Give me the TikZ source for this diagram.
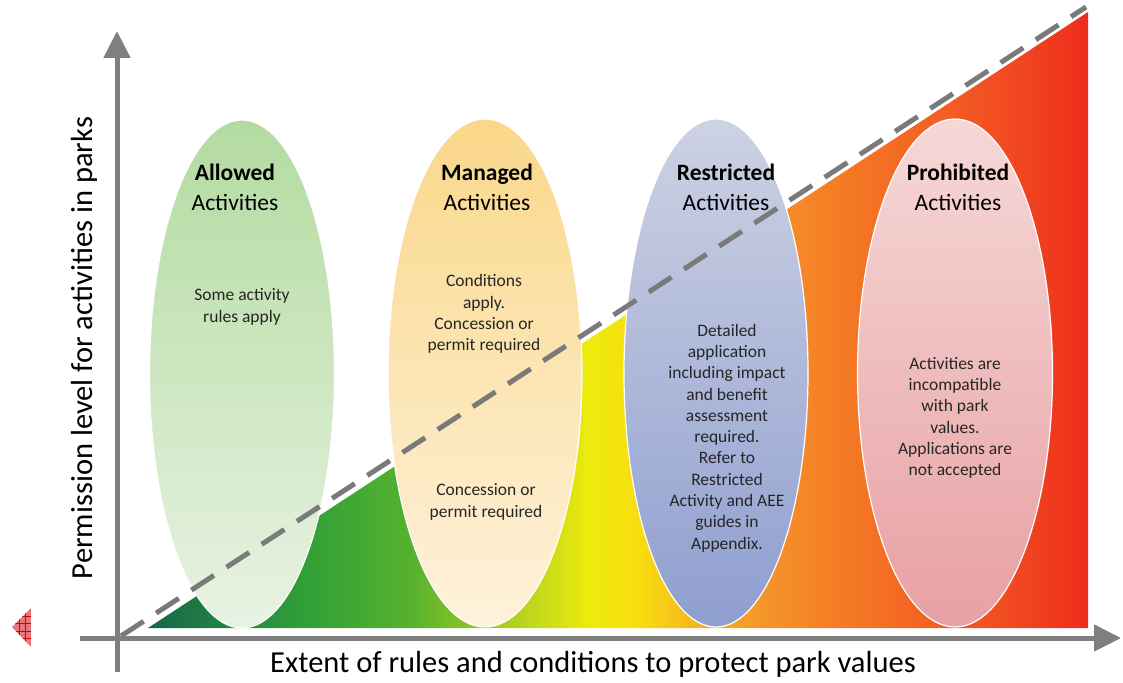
\documentclass[tikz,border=0pt]{standalone}
\usepackage{fontspec}
\setmainfont{Carlito}
\usetikzlibrary{arrows.meta,shapes.geometric}
\definecolor{axisgray}{HTML}{7F7F7F}
\definecolor{dashgray}{HTML}{7A7A7A}
\definecolor{txtgray}{HTML}{262626}
\definecolor{allowtop}{HTML}{B3DBA0}
\definecolor{allowbot}{HTML}{E8F3E3}
\definecolor{managetop}{HTML}{FAD88A}
\definecolor{managebot}{HTML}{FEF2DC}
\definecolor{restricttop}{HTML}{CDD2E3}
\definecolor{restrictbot}{HTML}{8E9ECF}
\definecolor{prohibtop}{HTML}{F6D8D7}
\definecolor{prohibbot}{HTML}{E8A0A3}
\definecolor{rampA}{HTML}{15664A}
\definecolor{rampB}{HTML}{1F7B44}
\definecolor{rampC}{HTML}{2E9E38}
\definecolor{rampD}{HTML}{57B22E}
\definecolor{rampE}{HTML}{AACF22}
\definecolor{rampF}{HTML}{EEEB0C}
\definecolor{rampG}{HTML}{F8DE10}
\definecolor{rampH}{HTML}{F6B71C}
\definecolor{rampI}{HTML}{F5922A}
\definecolor{rampJ}{HTML}{F47424}
\definecolor{rampK}{HTML}{F24F22}
\definecolor{rampL}{HTML}{EE2D1C}
\definecolor{iconred}{HTML}{E8767C}
\pgfdeclarehorizontalshading{parkramp}{100bp}{color(0bp)=(rampA); color(25bp)=(rampA); color(28bp)=(rampB); color(33bp)=(rampC); color(39bp)=(rampD); color(44bp)=(rampE); color(48.5bp)=(rampF); color(51bp)=(rampG); color(54bp)=(rampH); color(58bp)=(rampI); color(63bp)=(rampJ); color(70bp)=(rampK); color(75bp)=(rampL); color(100bp)=(rampL)}

\begin{document}
\begin{tikzpicture}[
  x=1pt,
  y=-1pt,
  zone/.style={ellipse, draw=white, line width=1.2pt, inner sep=0pt, minimum width=#1, minimum height=508pt},
  title/.style={font=\fontsize{23.5}{30}\selectfont, align=center, text=black},
  body/.style={font=\fontsize{17.5}{21.3}\selectfont, align=center, text=txtgray},
  axis/.style={draw=axisgray, line width=5pt, -{Triangle[length=27pt, width=26pt]}},
  dashline/.style={draw=dashgray, line width=5pt, dash pattern=on 27pt off 15pt},
  axlabel/.style={font=\fontsize{30.5}{36}\selectfont, text=black}
]
  \useasboundingbox (0,0) rectangle (1123,682);

  \shade[shading=parkramp] (148,628) -- (1088,628) -- (1088,12) -- cycle;

  \node[zone=185pt, top color=allowtop, bottom color=allowbot] (allowed) at (242,374) {};
  \node[zone=194pt, top color=managetop, bottom color=managebot] (managed) at (485,373) {};
  \node[zone=184pt, top color=restricttop, bottom color=restrictbot] (restricted) at (716,373) {};
  \node[zone=195pt, top color=prohibtop, bottom color=prohibbot] (prohibited) at (955,373) {};

  \coordinate (dstart) at (121,636);
  \coordinate (dend) at (1086,7);
  \draw[dashline] (dstart) -- (dend);

  \coordinate (ybot) at (117,672);
  \coordinate (ytop) at (117,31);
  \coordinate (xleft) at (80,638);
  \coordinate (xright) at (1121,638);
  \draw[axis] (ybot) -- (ytop);
  \draw[axis] (xleft) -- (xright);

  \node[title] (allowedtitle) at (235,187) {\textbf{Allowed}\\Activities};
  \node[title] (managedtitle) at (487,187) {\textbf{Managed}\\Activities};
  \node[title] (restrictedtitle) at (726,187) {\textbf{Restricted}\\Activities};
  \node[title] (prohibitedtitle) at (958,187) {\textbf{Prohibited}\\Activities};

  \node[body] (allowedtext) at (242,307) {Some activity\\rules apply};
  \node[body] (managedtexta) at (484,314) {Conditions\\apply.\\Concession or\\permit required};
  \node[body] (managedtextb) at (486,502) {Concession or\\permit required};
  \node[body] (restrictedtext) at (727,438) {Detailed\\application\\including impact\\and benefit\\assessment\\required.\\Refer to\\Restricted\\Activity and AEE\\guides in\\Appendix.};
  \node[body] (prohibitedtext) at (955,418) {Activities are\\incompatible\\with park\\values.\\Applications are\\not accepted};

  \node[axlabel, rotate=90] (ylabel) at (84,348) {Permission level for activities in parks};
  \node[axlabel] (xlabel) at (593,664) {Extent of rules and conditions to protect park values};

  \begin{scope}
    \clip (12,627) -- (31,608) -- (31,647) -- cycle;
    \fill[iconred] (12,607) rectangle (31,647);
    \foreach \gx in {19,25} \draw[red!80!black, line width=0.6pt] (\gx,607) -- (\gx,647);
    \foreach \gy in {616,623,631,638} \draw[red!80!black, line width=0.6pt] (12,\gy) -- (31,\gy);
  \end{scope}
\end{tikzpicture}
\end{document}
